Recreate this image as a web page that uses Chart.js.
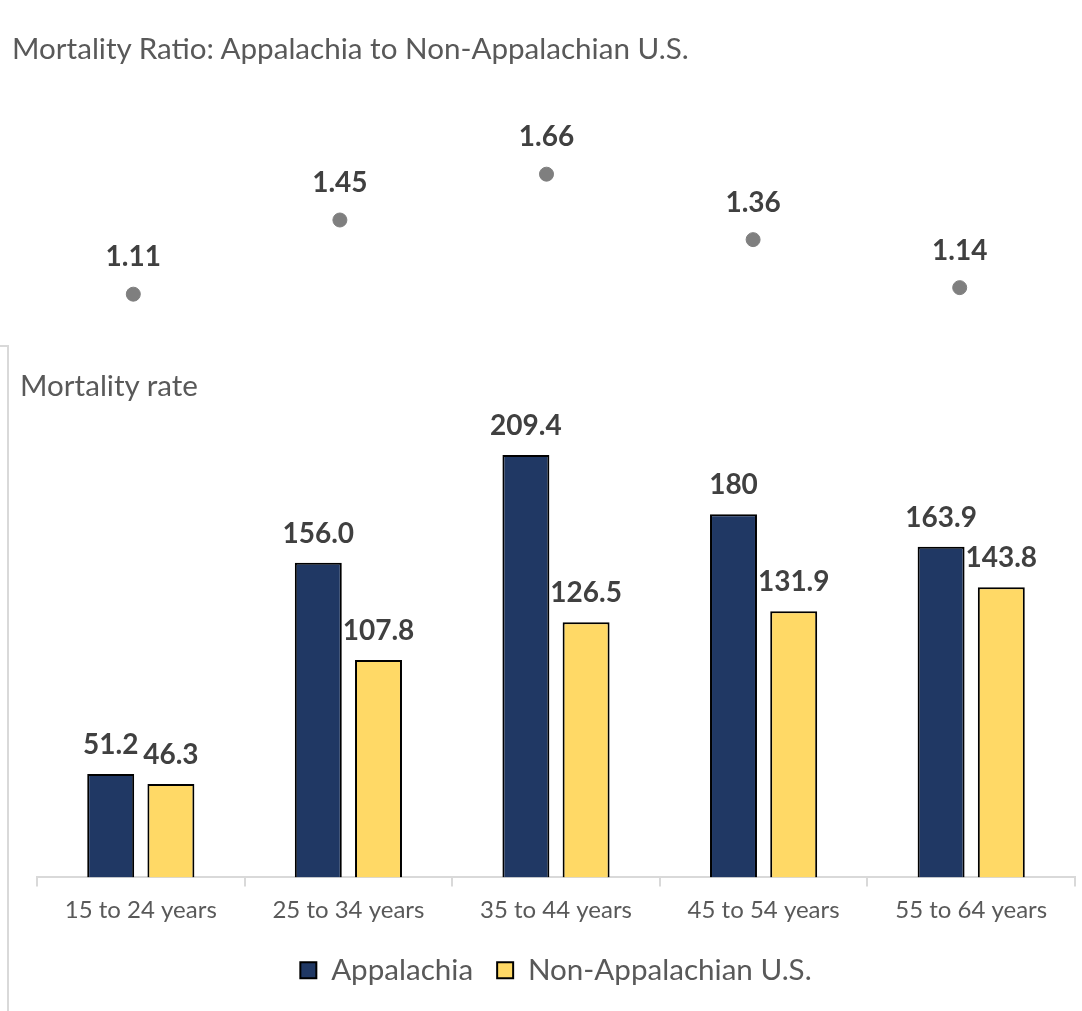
<!DOCTYPE html>
<html>
<head>
<meta charset="utf-8">
<script src="https://cdn.jsdelivr.net/npm/chart.js@4.4.1/dist/chart.umd.min.js"></script>
<style>
    body { margin: 0; background: #fff; width: 1082px; height: 1011px; overflow: hidden; position: relative; font-family: Lato, 'Open Sans', sans-serif; }
    #ratioTitle { position: absolute; left: 12px; top: 28px; font-size: 29.6px; color: #595959; line-height: 40px; white-space: nowrap; }
    #rateTitle { position: absolute; left: 20px; top: 365px; font-size: 29.6px; color: #595959; line-height: 40px; white-space: nowrap; }
    #frame { position: absolute; left: -1px; top: 345px; width: 8px; height: 680px; border-top: 2px solid #d9d9d9; border-right: 2px solid #d9d9d9; }
    #ratioWrap { position: absolute; left: 0; top: 0; width: 1082px; height: 340px; }
    #rateWrap { position: absolute; left: 0; top: 340px; width: 1082px; height: 671px; }
</style>
</head>
<body>
<div id="frame"></div>
<div id="ratioWrap"><canvas id="ratioChart"></canvas></div>
<div id="rateWrap"><canvas id="rateChart"></canvas></div>
<div id="ratioTitle">Mortality Ratio: Appalachia to Non-Appalachian U.S.</div>
<div id="rateTitle">Mortality rate</div>
<script>
const ageGroups = ['15 to 24 years', '25 to 34 years', '35 to 44 years', '45 to 54 years', '55 to 64 years'];
const ratios = [1.11, 1.45, 1.66, 1.36, 1.14];
const ratioLabels = ['1.11', '1.45', '1.66', '1.36', '1.14'];
const appalachia = [51.2, 156.0, 209.4, 180, 163.9];
const appalachiaLabels = ['51.2', '156.0', '209.4', '180', '163.9'];
const nonAppalachia = [46.3, 107.8, 126.5, 131.9, 143.8];
const nonAppalachiaLabels = ['46.3', '107.8', '126.5', '131.9', '143.8'];

const labelFont = 'bold 28px Lato, "Open Sans", sans-serif';

// draws the value text above each point / bar
const valueLabels = {
    id: 'valueLabels',
    afterDatasetsDraw(chart, args, opts) {
        const ctx = chart.ctx;
        ctx.save();
        ctx.font = labelFont;
        ctx.fillStyle = '#404040';
        ctx.textAlign = 'center';
        ctx.textBaseline = 'middle';
        chart.data.datasets.forEach((ds, i) => {
            const meta = chart.getDatasetMeta(i);
            meta.data.forEach((el, j) => {
                ctx.fillText(ds.valueText[j], el.x, el.y - opts.offset);
            });
        });
        ctx.restore();
    }
};

function initRatioChart() {
    const ctx = document.getElementById('ratioChart').getContext('2d');
    new Chart(ctx, {
        type: 'line',
        data: {
            labels: ageGroups,
            datasets: [{
                data: ratios,
                valueText: ratioLabels,
                showLine: false,
                pointRadius: 7,
                pointHoverRadius: 7,
                pointBackgroundColor: '#7f7f7f',
                pointBorderColor: '#7f7f7f'
            }]
        },
        options: {
            responsive: true,
            maintainAspectRatio: false,
            animation: false,
            layout: { autoPadding: false, padding: { left: 30, right: 19, top: 100, bottom: 0 } },
            plugins: {
                legend: { display: false },
                tooltip: { enabled: false },
                valueLabels: { offset: 37 }
            },
            scales: {
                x: { display: false, offset: true },
                y: { display: false, min: 0.9, max: 2.0 }
            }
        },
        plugins: [valueLabels]
    });
}

function initRateChart() {
    const ctx = document.getElementById('rateChart').getContext('2d');
    new Chart(ctx, {
        type: 'bar',
        data: {
            labels: ageGroups,
            datasets: [{
                label: 'Appalachia',
                data: appalachia,
                valueText: appalachiaLabels,
                backgroundColor: '#203864',
                borderColor: '#000000',
                borderWidth: 2,
                barPercentage: 0.78,
                categoryPercentage: 0.58
            }, {
                label: 'Non-Appalachian U.S.',
                data: nonAppalachia,
                valueText: nonAppalachiaLabels,
                backgroundColor: '#ffd966',
                borderColor: '#000000',
                borderWidth: 2,
                barPercentage: 0.78,
                categoryPercentage: 0.58
            }]
        },
        options: {
            responsive: true,
            maintainAspectRatio: false,
            animation: false,
            layout: { padding: { left: 37, right: 7, top: 33, bottom: 16 } },
            plugins: {
                tooltip: { enabled: false },
                valueLabels: { offset: 29 },
                legend: {
                    position: 'bottom',
                    labels: {
                        color: '#595959',
                        font: { family: 'Lato, "Open Sans", sans-serif', size: 29.6 },
                        boxWidth: 16,
                        boxHeight: 16,
                        padding: 24
                    }
                }
            },
            scales: {
                x: {
                    afterFit(scale) { scale.height = 54; },
                    grid: { display: true, drawOnChartArea: false, drawTicks: true, tickLength: 9, color: '#d9d9d9', lineWidth: 2 },
                    border: { display: true, color: '#d9d9d9', width: 2 },
                    ticks: {
                        color: '#595959',
                        font: { family: 'Lato, "Open Sans", sans-serif', size: 24 },
                        padding: 9
                    }
                },
                y: { display: false, min: 0, max: 250 }
            }
        },
        plugins: [valueLabels]
    });
}

document.addEventListener('DOMContentLoaded', () => {
    initRatioChart();
    initRateChart();
});
</script>
</body>
</html>
